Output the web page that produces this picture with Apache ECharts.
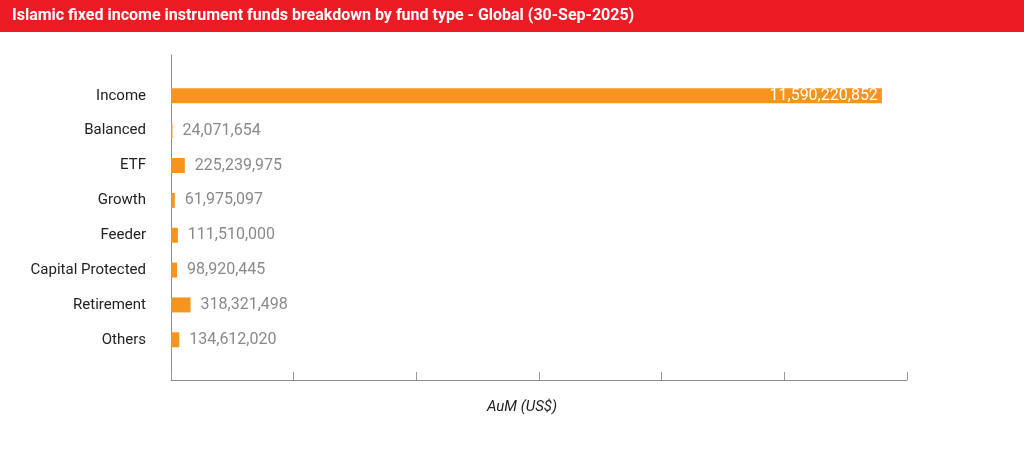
<!DOCTYPE html>
<html>
<head>
<meta charset="utf-8">
<style>html,body{margin:0;padding:0;background:#fff}#chart{width:1024px;height:449px}</style>
<script src="https://cdn.jsdelivr.net/npm/echarts@6/dist/echarts.min.js"></script>
</head>
<body>
<div id="chart"></div>
<script>
const titleText = 'Islamic fixed income instrument funds breakdown by fund type - Global (30-Sep-2025)';
const categories = ['Income', 'Balanced', 'ETF', 'Growth', 'Feeder', 'Capital Protected', 'Retirement', 'Others'];
const aumValues = [11590220852, 24071654, 225239975, 61975097, 111510000, 98920445, 318321498, 134612020];
const axisMin = 0;
const axisMax = 12000000000;
const axisInterval = 2000000000;
const axisName = 'AuM (US$)';

const fmt = v => v.toLocaleString('en-US');
const barData = aumValues.map(v => v > axisMax / 2 ? {
  value: v,
  label: { position: 'insideRight', color: '#ffffff', distance: 4 }
} : v);

const chart = echarts.init(document.getElementById('chart'));
chart.setOption({
  animation: false,
  graphic: [{
    type: 'rect', left: 0, top: 0, z: 0,
    shape: { width: 1024, height: 32 },
    style: { fill: '#ED1C24' }
  }],
  title: {
    text: titleText, left: 7, top: 3,
    textStyle: { color: '#fff', fontFamily: 'Roboto', fontWeight: 'bold', fontSize: 16 }
  },
  grid: [
    { left: 171, right: 117, top: 55, bottom: 69 },
    { left: 171, right: 117, top: 78.4, bottom: 91.8 }
  ],
  xAxis: [{
    gridIndex: 0, type: 'value', min: axisMin, max: axisMax, interval: axisInterval,
    axisLine: { show: true, lineStyle: { color: '#8c8c8c', width: 1 } },
    axisTick: { show: true, inside: true, length: 8, lineStyle: { color: '#9a9a9a' } },
    axisLabel: { show: false }, splitLine: { show: false },
    name: axisName, nameLocation: 'middle', nameGap: 20,
    nameTextStyle: { fontFamily: 'Roboto', fontStyle: 'italic', fontSize: 15, color: '#222', padding: [0, 34, 0, 0] }
  }, {
    gridIndex: 1, type: 'value', min: axisMin, max: axisMax, show: false
  }],
  yAxis: [{
    gridIndex: 0, type: 'value', min: 0, max: 1,
    axisLine: { show: true, lineStyle: { color: '#8c8c8c', width: 1 } },
    axisTick: { show: false }, axisLabel: { show: false }, splitLine: { show: false }
  }, {
    gridIndex: 1, type: 'category', data: categories, inverse: true,
    axisLine: { show: false }, axisTick: { show: false },
    axisLabel: { margin: 25, fontFamily: 'Roboto', fontSize: 15, color: '#222' }
  }],
  series: [{
    type: 'bar', xAxisIndex: 1, yAxisIndex: 1, data: barData,
    barWidth: 15,
    itemStyle: { color: '#F7941D' },
    label: {
      show: true, position: 'right', distance: 10,
      fontFamily: 'Roboto', fontSize: 16, color: '#8a8a8a',
      formatter: p => fmt(p.value)
    }
  }]
});
</script>
</body>
</html>
